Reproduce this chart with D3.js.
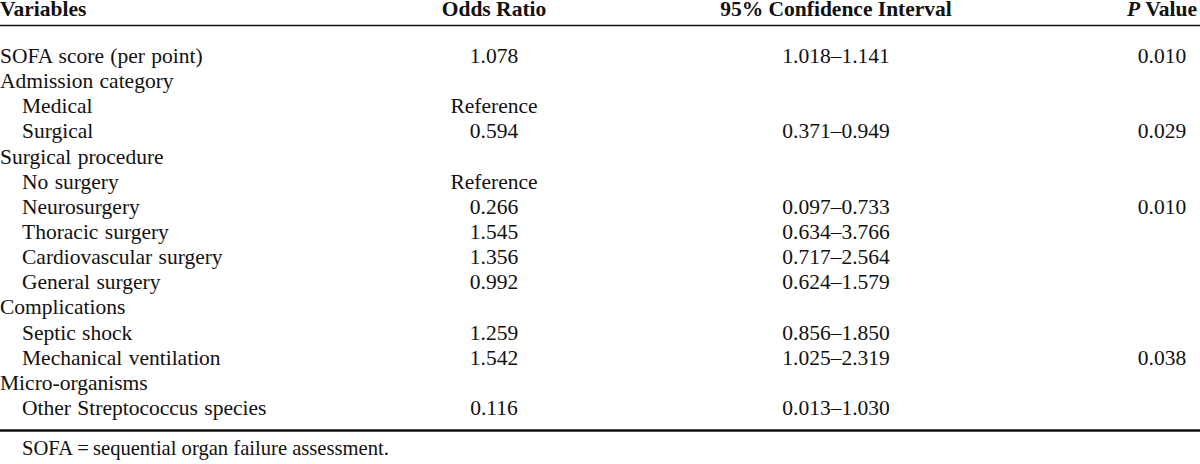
<!DOCTYPE html>
<html>
<head>
<meta charset="utf-8">
<script src="https://cdn.jsdelivr.net/npm/d3@7/dist/d3.min.js"></script>
<style>
  html, body { margin: 0; padding: 0; background: #fff; }
  svg { display: block; }
</style>
</head>
<body>
<svg id="chart" width="1200" height="464"></svg>
<script>
// ---- data ----
const headers = ["Variables", "Odds Ratio", "95% Confidence Interval", "P Value"];
const variables = [
  "SOFA score (per point)",
  "Admission category",
  "Medical",
  "Surgical",
  "Surgical procedure",
  "No surgery",
  "Neurosurgery",
  "Thoracic surgery",
  "Cardiovascular surgery",
  "General surgery",
  "Complications",
  "Septic shock",
  "Mechanical ventilation",
  "Micro-organisms",
  "Other Streptococcus species"
];
const indentLevel = [0, 0, 1, 1, 0, 1, 1, 1, 1, 1, 0, 1, 1, 0, 1];
const oddsRatios = ["1.078", "", "Reference", "0.594", "", "Reference", "0.266", "1.545", "1.356", "0.992", "", "1.259", "1.542", "", "0.116"];
const ciLower = ["1.018", "", "", "0.371", "", "", "0.097", "0.634", "0.717", "0.624", "", "0.856", "1.025", "", "0.013"];
const ciUpper = ["1.141", "", "", "0.949", "", "", "0.733", "3.766", "2.564", "1.579", "", "1.850", "2.319", "", "1.030"];
const pValues = ["0.010", "", "", "0.029", "", "", "0.010", "", "", "", "", "", "0.038", "", ""];
const footnote = "SOFA\u2009=\u2009sequential organ failure assessment.";

// ---- layout ----
const FONT = '"Liberation Serif"';
const svg = d3.select("#chart");
const W = 1200;
const fontSize = 21.5;
const headerSize = 21.5;
const footSize = 20.6;

const y = d3.scalePoint().domain(d3.range(variables.length)).range([63, 415]);
const colCenter = d3.scaleOrdinal().domain(["or", "ci", "p"]).range([494, 836, 1162]);
const indent = d3.scaleLinear().domain([0, 1]).range([0, 22]);

function txt(sel) {
  return sel.append("text").style("font-family", FONT).style("fill", "#111");
}

// header
const hY = 16;
const hdr = svg.append("g");
function htxt(x, anchor) {
  return txt(hdr).attr("x", x).attr("y", hY).attr("text-anchor", anchor)
    .style("font-weight", "bold").style("font-size", headerSize + "px");
}
htxt(0, "start").text(headers[0]);
htxt(colCenter("or"), "middle").text(headers[1]);
htxt(colCenter("ci"), "middle").text(headers[2]);
const pHdr = htxt(colCenter("p"), "middle");
pHdr.append("tspan").style("font-style", "italic").text("P");
pHdr.append("tspan").text(" Value");

// rules
svg.append("line").attr("x1", 0).attr("x2", W).attr("y1", 25.5).attr("y2", 25.5)
  .attr("stroke", "#111").attr("stroke-width", 1.3);
svg.append("line").attr("x1", 0).attr("x2", W).attr("y1", 430.5).attr("y2", 430.5)
  .attr("stroke", "#111").attr("stroke-width", 2.6);

// body rows
const rows = svg.append("g")
  .selectAll("g.row").data(d3.range(variables.length)).join("g").attr("class", "row");

function rtxt(sel) {
  return sel.append("text").style("font-family", FONT).style("fill", "#111")
    .style("font-size", fontSize + "px");
}

rtxt(rows)
  .attr("x", i => indent(indentLevel[i]))
  .attr("y", i => y(i))
  .style("word-spacing", "1px")
  .text(i => variables[i]);

rtxt(rows.filter(i => oddsRatios[i] !== ""))
  .attr("x", colCenter("or")).attr("y", i => y(i)).attr("text-anchor", "middle")
  .text(i => oddsRatios[i]);

rtxt(rows.filter(i => ciLower[i] !== ""))
  .attr("x", colCenter("ci")).attr("y", i => y(i)).attr("text-anchor", "middle")
  .text(i => ciLower[i] + "\u2013" + ciUpper[i]);

rtxt(rows.filter(i => pValues[i] !== ""))
  .attr("x", colCenter("p")).attr("y", i => y(i)).attr("text-anchor", "middle")
  .text(i => pValues[i]);

// footnote
txt(svg).attr("x", 22).attr("y", 455).style("font-size", footSize + "px").text(footnote);
</script>
</body>
</html>
